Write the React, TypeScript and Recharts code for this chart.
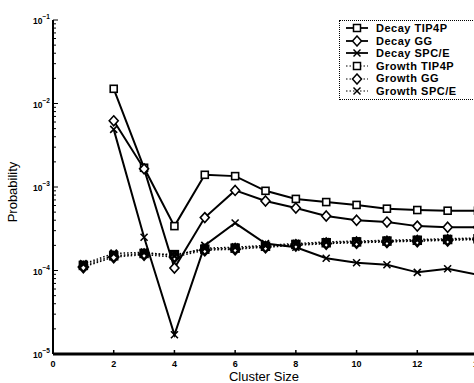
import { LineChart, Line, XAxis, YAxis, Legend } from "recharts";

const clusterSizes = [1, 2, 3, 4, 5, 6, 7, 8, 9, 10, 11, 12, 13, 14];

const decayTip4p = [null, 1.5e-2, 1.7e-3, 3.4e-4, 1.4e-3, 1.35e-3, 9e-4, 7.2e-4, 6.6e-4, 6.1e-4, 5.5e-4, 5.3e-4, 5.2e-4, 5.2e-4];
const decayGG = [null, 6.2e-3, 1.65e-3, 1.07e-4, 4.3e-4, 9.1e-4, 6.8e-4, 5.6e-4, 4.5e-4, 4.0e-4, 3.8e-4, 3.4e-4, 3.3e-4, 3.3e-4];
const decaySpce = [null, 4.9e-3, 2.5e-4, 1.7e-5, 2.0e-4, 3.7e-4, 2.1e-4, 1.9e-4, 1.4e-4, 1.24e-4, 1.17e-4, 9.5e-5, 1.05e-4, 8.9e-5];
const growthTip4p = [1.15e-4, 1.5e-4, 1.6e-4, 1.55e-4, 1.8e-4, 1.85e-4, 1.95e-4, 2.05e-4, 2.15e-4, 2.2e-4, 2.25e-4, 2.3e-4, 2.35e-4, 2.4e-4];
const growthGG = [1.1e-4, 1.45e-4, 1.55e-4, 1.45e-4, 1.75e-4, 1.8e-4, 1.9e-4, 2.0e-4, 2.1e-4, 2.15e-4, 2.2e-4, 2.25e-4, 2.3e-4, 2.35e-4];
const growthSpce = [1.2e-4, 1.6e-4, 1.65e-4, 1.5e-4, 1.85e-4, 1.9e-4, 2.0e-4, 2.1e-4, 2.2e-4, 2.25e-4, 2.3e-4, 2.35e-4, 2.4e-4, 2.45e-4];

const xTicks = [0, 2, 4, 6, 8, 10, 12, 14];
const yDecades = [1e-5, 1e-4, 1e-3, 1e-2, 1e-1];
const yMinorSteps = [2, 3, 4, 5, 6, 7, 8, 9];
const yTicks = [
  ...yDecades,
  ...yDecades.slice(0, -1).flatMap((d) => yMinorSteps.map((m) => d * m)),
].sort((a, b) => a - b);

const data = clusterSizes.map((x, i) => ({
  x,
  decayTip4p: decayTip4p[i],
  decayGG: decayGG[i],
  decaySpce: decaySpce[i],
  growthTip4p: growthTip4p[i],
  growthGG: growthGG[i],
  growthSpce: growthSpce[i],
}));

// layout (matlab-ish frame, cropped on the right like the scan)
const PLOT_LEFT = 53;
const PLOT_TOP = 20;
const PLOT_BOTTOM = 354;
const PLOT_RIGHT = 478;
const FONT = "'Liberation Sans', Arial, sans-serif";

type Shape = "square" | "diamond" | "cross";

function Marker({ shape, cx, cy, sw = 1.5 }: { shape: Shape; cx: number; cy: number; sw?: number }) {
  if (shape === "square")
    return <rect x={cx - 3.5} y={cy - 3.5} width={7} height={7} fill="#fff" stroke="#000" strokeWidth={sw} />;
  if (shape === "diamond")
    return (
      <polygon
        points={`${cx},${cy - 5} ${cx + 4.5},${cy} ${cx},${cy + 5} ${cx - 4.5},${cy}`}
        fill="#fff"
        stroke="#000"
        strokeWidth={sw}
      />
    );
  return (
    <g stroke="#000" strokeWidth={sw}>
      <line x1={cx - 3.5} y1={cy - 3.5} x2={cx + 3.5} y2={cy + 3.5} />
      <line x1={cx - 3.5} y1={cy + 3.5} x2={cx + 3.5} y2={cy - 3.5} />
    </g>
  );
}

const dotFor = (shape: Shape, sw?: number) => (p: any) => {
  if (p.cx == null || p.cy == null || p.value == null) return <g key={p.key ?? p.index} />;
  return (
    <g key={p.key ?? p.index}>
      <Marker shape={shape} cx={p.cx} cy={p.cy} sw={sw} />
    </g>
  );
};

const series = [
  { key: "decayTip4p", name: "Decay TIP4P", shape: "square" as Shape, dotted: false },
  { key: "decayGG", name: "Decay GG", shape: "diamond" as Shape, dotted: false },
  { key: "decaySpce", name: "Decay SPC/E", shape: "cross" as Shape, dotted: false },
  { key: "growthTip4p", name: "Growth TIP4P", shape: "square" as Shape, dotted: true },
  { key: "growthGG", name: "Growth GG", shape: "diamond" as Shape, dotted: true },
  { key: "growthSpce", name: "Growth SPC/E", shape: "cross" as Shape, dotted: true },
];

function YTick(props: any) {
  const v = props.payload.value as number;
  const y = props.y as number;
  const exp = Math.log10(v);
  const major = Math.abs(exp - Math.round(exp)) < 1e-6;
  return (
    <g>
      <line x1={PLOT_LEFT} x2={PLOT_LEFT + (major ? 5 : 3)} y1={y} y2={y} stroke="#000" strokeWidth={1} />
      {major && (
        <text x={PLOT_LEFT - 3} y={y + 4} textAnchor="end" fontFamily={FONT} fontWeight="bold" fontSize={8.5} fill="#000">
          10
          <tspan dy={-5} fontSize={6.5}>
            {"\u2212" + Math.abs(Math.round(exp))}
          </tspan>
        </text>
      )}
    </g>
  );
}

function RightTick(props: any) {
  const y = props.y as number;
  return <line x1={PLOT_RIGHT - 5} x2={PLOT_RIGHT} y1={y} y2={y} stroke="#000" strokeWidth={1} />;
}

function XTick(props: any) {
  const x = props.x as number;
  return (
    <g>
      <line x1={x} x2={x} y1={PLOT_BOTTOM} y2={PLOT_BOTTOM - 4} stroke="#000" strokeWidth={1.5} />
      <text x={x} y={PLOT_BOTTOM + 13} textAnchor="middle" fontFamily={FONT} fontWeight="bold" fontSize={9} fill="#000">
        {props.payload.value}
      </text>
    </g>
  );
}

function TopTick(props: any) {
  const x = props.x as number;
  return <line x1={x} x2={x} y1={PLOT_TOP} y2={PLOT_TOP + 4} stroke="#000" strokeWidth={1.5} />;
}

function LegendBox() {
  return (
    <div
      style={{
        border: "1px dotted #000",
        background: "#fff",
        padding: "1px 0 1px 2px",
        fontFamily: FONT,
        fontWeight: "bold",
        fontSize: 11,
        letterSpacing: 0.5,
        lineHeight: "12.6px",
        color: "#000",
      }}
    >
      {series.map((s) => (
        <div key={s.key} style={{ display: "flex", alignItems: "center", height: 12.6, whiteSpace: "nowrap" }}>
          <svg width={32} height={12} style={{ marginRight: 2 }}>
            <line
              x1={4}
              x2={26}
              y1={6}
              y2={6}
              stroke="#000"
              strokeWidth={s.dotted ? 1.2 : 1.8}
              strokeDasharray={s.dotted ? "1.5 2" : undefined}
            />
            <Marker shape={s.shape} cx={15} cy={6} sw={1.5} />
          </svg>
          <span>{s.name}</span>
        </div>
      ))}
    </div>
  );
}

export default function App() {
  return (
    <div style={{ position: "fixed", left: 0, top: 0, width: 474, height: 383, overflow: "hidden", background: "#fff" }}>
      <LineChart width={486} height={383} data={data} margin={{ top: PLOT_TOP, right: 8, bottom: 0, left: 0 }}>
        <XAxis
          dataKey="x"
          type="number"
          domain={[0, 14]}
          ticks={xTicks}
          interval={0}
          height={29}
          tickLine={false}
          tick={<XTick />}
          axisLine={{ stroke: "#000", strokeWidth: 3 }}
          label={{
            content: () => (
              <text x={264} y={381} textAnchor="middle" fontFamily={FONT} fontSize={13} fill="#000">
                Cluster Size
              </text>
            ),
          }}
        />
        <XAxis
          xAxisId="top"
          orientation="top"
          type="number"
          domain={[0, 14]}
          ticks={xTicks}
          interval={0}
          height={0}
          tickLine={false}
          tick={<TopTick />}
          axisLine={{ stroke: "#000", strokeWidth: 2 }}
        />
        <YAxis
          scale="log"
          type="number"
          domain={[1e-5, 1e-1]}
          allowDataOverflow
          ticks={yTicks}
          interval={0}
          width={PLOT_LEFT}
          tickLine={false}
          tick={<YTick />}
          axisLine={{ stroke: "#000", strokeWidth: 2 }}
          label={{
            content: () => (
              <text
                x={14}
                y={192}
                transform="rotate(-90 14 192)"
                textAnchor="middle"
                dominantBaseline="middle"
                fontFamily={FONT}
                fontSize={13}
                fill="#000"
              >
                Probability
              </text>
            ),
          }}
        />
        <YAxis
          yAxisId="right"
          orientation="right"
          scale="log"
          type="number"
          domain={[1e-5, 1e-1]}
          allowDataOverflow
          ticks={yDecades}
          interval={0}
          width={0}
          tickLine={false}
          tick={<RightTick />}
          axisLine={{ stroke: "#000", strokeWidth: 2 }}
        />
        <Legend
          layout="vertical"
          align="center"
          verticalAlign="middle"
          wrapperStyle={{ top: 20, left: 339, width: 140 }}
          content={() => <LegendBox />}
        />
        {series.map((s) => (
          <Line
            key={s.key}
            dataKey={s.key}
            name={s.name}
            stroke="#000"
            strokeWidth={s.dotted ? 1.5 : 2}
            strokeDasharray={s.dotted ? "1.5 2" : undefined}
            dot={dotFor(s.shape, s.dotted ? 2.5 : 1.6)}
            activeDot={false}
            isAnimationActive={false}
          />
        ))}
      </LineChart>
    </div>
  );
}
